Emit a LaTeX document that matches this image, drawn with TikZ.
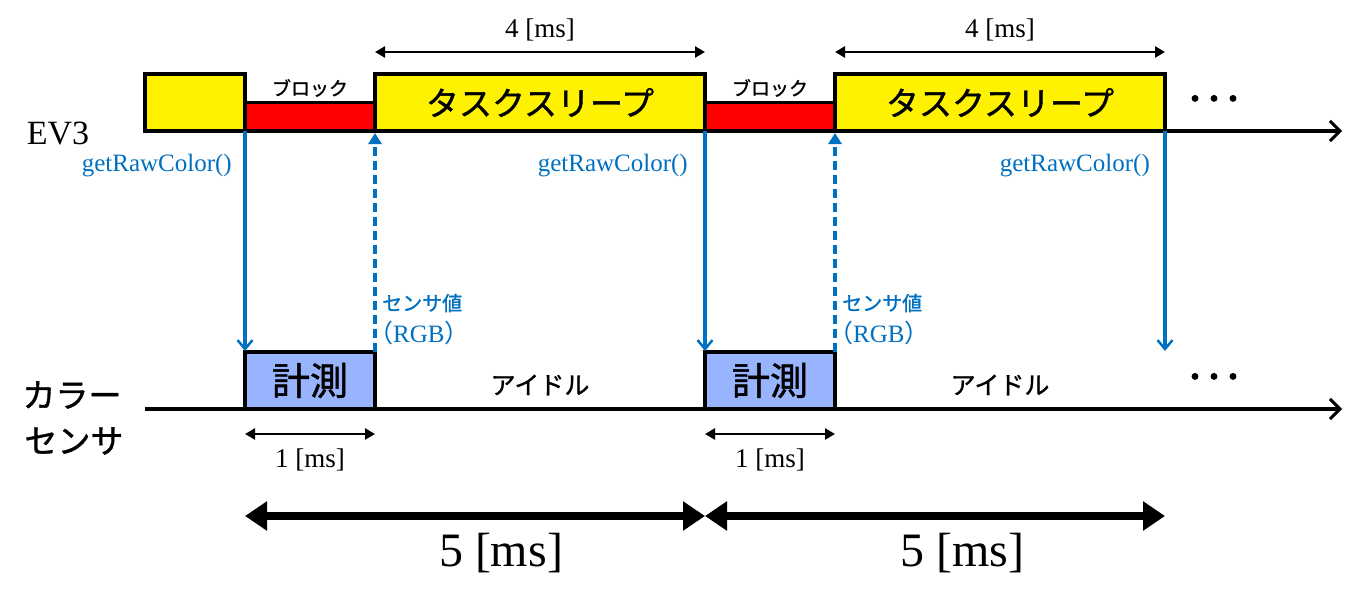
\documentclass[tikz,border=0pt]{standalone}
\usepackage{fontspec}
\setmainfont{Liberation Serif}
\newfontfamily\cjk[FakeBold=1.2]{Noto Sans CJK JP}
\newfontfamily\cjkp{Noto Sans CJK JP}
\newfontfamily\cjkb[FakeBold=14]{Noto Sans CJK JP}
\usetikzlibrary{arrows.meta}
\definecolor{evblue}{RGB}{0,112,192}
\definecolor{measblue}{RGB}{153,180,255}
\begin{document}
\begin{tikzpicture}[x=1pt,y=-1pt,
  ybox/.style={draw, line width=4pt, fill=yellow, inner sep=0pt, outer sep=0pt, anchor=south west, font=\cjk\fontsize{33}{35}\selectfont},
  rbox/.style={draw, line width=3pt, fill=red, inner sep=0pt, outer sep=0pt, anchor=south west},
  mbox/.style={draw, line width=3.5pt, fill=measblue, inner sep=0pt, outer sep=0pt, anchor=south west, font=\cjk\fontsize{38}{40}\selectfont},
  axis/.style={line width=4pt, -{Straight Barb[length=10pt,width=20pt,line width=3pt]}},
  bsolid/.style={evblue, line width=3.2pt, -{Straight Barb[length=9pt,width=15pt,line width=2.5pt]}, shorten >=1pt},
  bdash/.style={evblue, line width=3.2pt, dash pattern=on 9pt off 5pt, -{Triangle[length=11pt,width=13pt]}, shorten >=2pt},
  dim/.style={line width=2.5pt, {Triangle[length=10pt,width=11pt]}-{Triangle[length=10pt,width=11pt]}},
  bigdim/.style={line width=8pt, {Triangle[length=22pt,width=28pt]}-{Triangle[length=22pt,width=28pt]}},
  lbl/.style={inner sep=0pt, font=\fontsize{27}{29}\selectfont},
  big/.style={inner sep=0pt, font=\fontsize{48}{50}\selectfont},
  blbl/.style={inner sep=0pt, text=evblue, font=\fontsize{25}{27}\selectfont},
  jlbl/.style={inner sep=0pt, font=\cjk\fontsize{19}{21}\selectfont},
  jbig/.style={inner sep=0pt, font=\cjk\fontsize{33}{35}\selectfont},
  dots/.style={inner sep=0pt, font=\cjkb\fontsize{19}{21}\selectfont}
]
\useasboundingbox (0,0) rectangle (1362,610);

% EV3 timeline boxes
\node[ybox, minimum width=100pt, minimum height=57pt] (y0) at (145,131) {};
\node[rbox, minimum width=130pt, minimum height=29pt] (r1) at (245,131) {};
\node[ybox, minimum width=330pt, minimum height=57pt] (y1) at (375,131) {タスクスリープ};
\node[rbox, minimum width=130pt, minimum height=29pt] (r2) at (705,131) {};
\node[ybox, minimum width=330pt, minimum height=57pt] (y2) at (835,131) {タスクスリープ};

\node[jlbl] (b1) at (310,88) {ブロック};
\node[jlbl] (b2) at (770,88) {ブロック};
\node[dots] (dt1) at (1214,101) {・・・};

% axes
\coordinate (e0) at (143,131);
\coordinate (e1) at (1342,131);
\draw[axis] (e0) -- (e1);
\coordinate (s0) at (145,409);
\coordinate (s1) at (1342,409);

% sensor boxes
\node[mbox, minimum width=130pt, minimum height=57pt] (m1) at (245,409) {計測};
\node[mbox, minimum width=130pt, minimum height=57pt] (m2) at (705,409) {計測};
\draw[axis] (s0) -- (s1);

\node[jlbl, font=\cjk\fontsize{25}{27}\selectfont] (id1) at (540,385) {アイドル};
\node[jlbl, font=\cjk\fontsize{25}{27}\selectfont] (id2) at (1000,385) {アイドル};
\node[dots] (dt2) at (1214,379) {・・・};

% labels
\node[inner sep=0pt, font=\fontsize{34}{36}\selectfont] (ev3) at (58,134) {EV3};
\node[jbig] (cl1) at (72,395) {カラー};
\node[jbig] (cl2) at (74,441) {センサ};

% blue arrows
\coordinate (c3) at (1165,352);
\draw[bsolid] (y0.south east) -- (m1.north west);
\draw[bsolid] (y1.south east) -- (m2.north west);
\draw[bsolid] (y2.south east) -- (c3);
\draw[bdash] (m1.north east) -- (y1.south west);
\draw[bdash] (m2.north east) -- (y2.south west);

\node[blbl, anchor=east] (g1) at (232,166) {getRawColor()};
\node[blbl, anchor=east] (g2) at (688,166) {getRawColor()};
\node[blbl, anchor=east] (g3) at (1150,166) {getRawColor()};

\node[blbl, anchor=west, font=\cjk\fontsize{20}{22}\selectfont] (sv1) at (382,303) {センサ値};
\node[blbl, anchor=west] (rgb1) at (368,333) {{\cjkp （}RGB{\cjkp ）}};
\node[blbl, anchor=west, font=\cjk\fontsize{20}{22}\selectfont] (sv2) at (842,303) {センサ値};
\node[blbl, anchor=west] (rgb2) at (828,333) {{\cjkp （}RGB{\cjkp ）}};

% dimension arrows
\coordinate (d1a) at (375,52); \coordinate (d1b) at (705,52);
\coordinate (d2a) at (835,52); \coordinate (d2b) at (1165,52);
\draw[dim] (d1a) -- (d1b);
\draw[dim] (d2a) -- (d2b);
\node[lbl] (l4a) at (540,30) {4 [ms]};
\node[lbl] (l4b) at (1000,30) {4 [ms]};

\coordinate (d3a) at (245,434); \coordinate (d3b) at (375,434);
\coordinate (d4a) at (705,434); \coordinate (d4b) at (835,434);
\draw[dim] (d3a) -- (d3b);
\draw[dim] (d4a) -- (d4b);
\node[lbl] (l1a) at (310,460) {1 [ms]};
\node[lbl] (l1b) at (770,460) {1 [ms]};

\coordinate (d5a) at (245,516); \coordinate (d5b) at (705,516); \coordinate (d5c) at (1165,516);
\draw[bigdim] (d5a) -- (d5b);
\draw[bigdim] (d5b) -- (d5c);
\node[big] (l5a) at (501,553) {5 [ms]};
\node[big] (l5b) at (962,553) {5 [ms]};
\end{tikzpicture}
\end{document}
